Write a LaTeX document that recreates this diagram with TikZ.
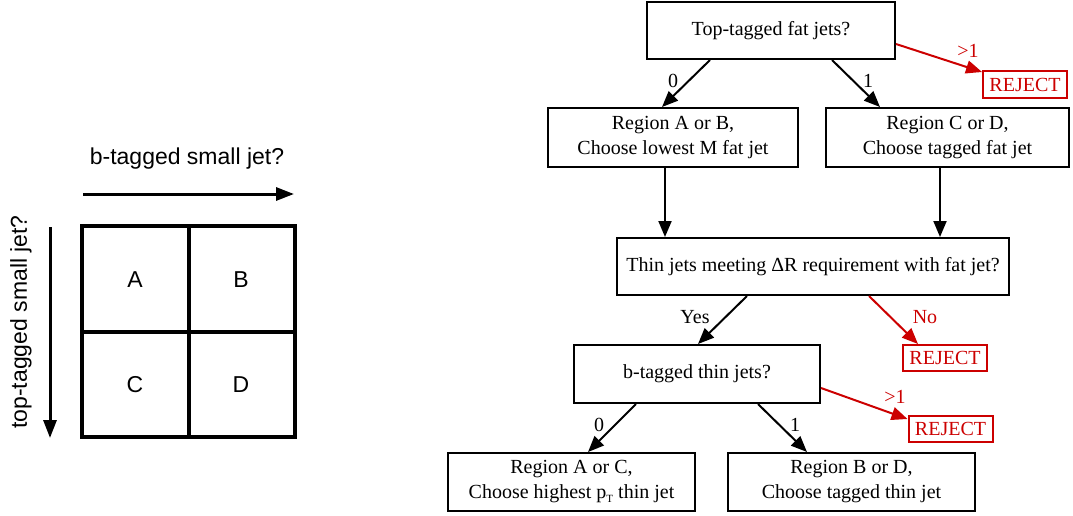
\documentclass[tikz,border=0pt]{standalone}
\usepackage{fontspec}
\setmainfont{Liberation Serif}
\newfontfamily\arialf{Liberation Sans}
\usetikzlibrary{arrows.meta}
\definecolor{rej}{RGB}{204,0,0}
\begin{document}
\begin{tikzpicture}[x=1pt,y=-1pt,
  box/.style={draw=black, line width=2pt, inner sep=0pt, align=center,
    font=\fontsize{20}{25}\selectfont},
  rejbox/.style={draw=rej, text=rej, line width=2pt, inner sep=0pt,
    minimum width=84pt, minimum height=26pt, font=\fontsize{20}{24}\selectfont},
  lbl/.style={font=\fontsize{20}{24}\selectfont, inner sep=0pt},
  rlbl/.style={lbl, text=rej},
  arr/.style={line width=2pt, -{Triangle[length=16pt,width=13pt]}},
  rarr/.style={arr, draw=rej},
  sanslbl/.style={font=\arialf\fontsize{23}{27}\selectfont, inner sep=0pt},
  bigarr/.style={line width=3pt, -{Triangle[length=18pt,width=13pt]}},
  gridline/.style={line width=4pt}
]
\useasboundingbox (0,0) rectangle (1073,515);

% ---------- left: region grid ----------
\coordinate (g1) at (82,226);
\coordinate (g2) at (295,437);
\draw[gridline] (g1) rectangle (g2);
\coordinate (vt) at (188.5,226);
\coordinate (vb) at (188.5,437);
\coordinate (hl) at (82,331.5);
\coordinate (hr) at (295,331.5);
\draw[gridline] (vt) -- (vb);
\draw[gridline] (hl) -- (hr);
\node[sanslbl] (A) at (135,280) {A};
\node[sanslbl] (B) at (241,280) {B};
\node[sanslbl] (C) at (135,385) {C};
\node[sanslbl] (D) at (241,385) {D};
\coordinate (ha) at (83,194);
\coordinate (hb) at (294,194);
\draw[bigarr] (ha) -- (hb);
\coordinate (va) at (50,227);
\coordinate (vbb) at (50,438);
\draw[bigarr] (va) -- (vbb);
\node[sanslbl] (btitle) at (187,159) {b-tagged small jet?};
\node[sanslbl, rotate=90] (ttitle) at (21,322) {top-tagged small jet?};

% ---------- right: flow chart ----------
\node[box, minimum width=248pt, minimum height=57pt] (top) at (771,30.5) {Top-tagged fat jets?};
\node[box, minimum width=250pt, minimum height=59pt] (aob) at (673,137.5) {Region A or B,\\Choose lowest M fat jet};
\node[box, minimum width=243pt, minimum height=59pt] (cod) at (947.5,137.5) {Region C or D,\\Choose tagged fat jet};
\node[box, minimum width=392pt, minimum height=57pt] (thin) at (813,266.5) {Thin jets meeting ΔR requirement with fat jet?};
\node[box, minimum width=246pt, minimum height=58pt] (btag) at (697,374) {b-tagged thin jets?};
\node[box, minimum width=247pt, minimum height=58pt] (aoc) at (571.5,482) {Region A or C,\\Choose highest p\raisebox{-0.35ex}{\fontsize{11}{11}\selectfont T} thin jet};
\node[box, minimum width=247pt, minimum height=58pt] (bod) at (851.5,482) {Region B or D,\\Choose tagged thin jet};
\node[rejbox, minimum height=27pt] (rej1) at (1025,84.5) {REJECT};
\node[rejbox] (rej2) at (945,358) {REJECT};
\node[rejbox] (rej3) at (950.5,429) {REJECT};

\draw[arr] ([xshift=-61pt]top.south) -- ([xshift=-11pt]aob.north);
\draw[arr] ([xshift=61pt]top.south) -- ([xshift=-67.5pt]cod.north);
\draw[rarr] ([yshift=-13.5pt]top.east) -- ([yshift=-2pt]rej1.north west);
\draw[arr] ([xshift=-8pt]aob.south) -- ([xshift=-8pt]aob.south |- thin.north);
\draw[arr] ([xshift=-7.5pt]cod.south) -- ([xshift=-7.5pt]cod.south |- thin.north);
\draw[arr] ([xshift=-66pt]thin.south) -- ([xshift=1pt]btag.north);
\draw[rarr] ([xshift=56pt]thin.south) -- ([xshift=-27pt]rej2.north);
\draw[rarr] ([yshift=-14pt]btag.east) -- ([yshift=-4pt]rej3.north west);
\draw[arr] ([xshift=-61pt]btag.south) -- ([xshift=16.5pt]aoc.north);
\draw[arr] ([xshift=61pt]btag.south) -- ([xshift=-44.5pt]bod.north);

\node[lbl] (l0a) at (673,81) {0};
\node[lbl] (l1a) at (868,81) {1};
\node[rlbl] (lgt1) at (968,51) {>1};
\node[lbl] (lyes) at (695,317) {Yes};
\node[rlbl] (lno) at (925,317) {No};
\node[rlbl] (lgt2) at (895,397) {>1};
\node[lbl] (l0b) at (599,425) {0};
\node[lbl] (l1b) at (795,425) {1};
\end{tikzpicture}
\end{document}
